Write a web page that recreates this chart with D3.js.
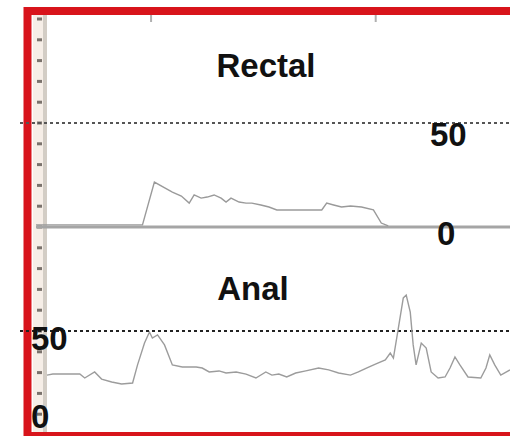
<!DOCTYPE html>
<html>
<head>
<meta charset="utf-8">
<script src="https://cdn.jsdelivr.net/npm/d3@7"></script>
<style>
  html, body { margin: 0; padding: 0; background: #fff; }
  svg { display: block; }
</style>
</head>
<body>
<div id="chart"></div>
<script>
// Anorectal manometry trace – rectal and anal pressure channels

const timeDomain = [4.9, 26];
const timeTicks = [10, 20];
const refLevel = 50;

const rectalTime = [4.9, 9.64, 10.17, 10.97, 11.37, 11.72, 11.94, 12.25, 12.52, 12.83, 13.14, 13.36,
  13.58, 13.94, 14.25, 14.51, 14.91, 15.27, 15.62, 16.73, 17.62, 17.84, 18.15, 18.5, 18.9, 19.39,
  19.92, 20.27, 20.58];
const rectalPressure = [1, 1, 21.6, 16.8, 14.9, 11.5, 15.4, 13.9, 14.4, 15.4, 13.9, 12.0,
  13.9, 12.0, 11.5, 11.5, 10.6, 9.6, 8.2, 8.2, 8.2, 11.5, 10.6, 9.6, 10.1, 9.6,
  8.2, 1.9, 0.5];

const analTime = [5.39, 5.65, 6.85, 7.07, 7.51, 7.82, 8.27, 8.71, 9.2, 9.42, 9.73, 9.95, 10.08,
  10.31, 10.62, 10.97, 11.41, 12.03, 12.3, 12.61, 13.05, 13.36, 13.81, 14.25, 14.69, 15.13, 15.4,
  15.71, 16.06, 16.46, 16.91, 17.48, 17.93, 18.37, 18.9, 19.25, 19.61, 20.01, 20.45, 20.67, 20.81,
  21.03, 21.25, 21.38, 21.56, 21.69, 21.82, 22.05, 22.27, 22.49, 22.8, 23.11, 23.33, 23.55, 23.77,
  24.13, 24.7, 24.93, 25.1, 25.32, 25.59, 26.0];
const analPressure = [28.8, 29.3, 29.3, 27.4, 30.3, 26.9, 25.5, 24.5, 25.0, 33.7, 44.2, 49.5, 46.6,
  48.1, 43.3, 33.7, 32.7, 32.7, 32.2, 30.3, 30.8, 29.8, 30.3, 29.3, 27.4, 30.3, 28.8,
  29.3, 27.9, 29.8, 30.8, 32.2, 31.3, 29.8, 28.8, 30.3, 32.2, 34.1, 36.1, 39.4, 37.0,
  51.4, 65.9, 67.3, 59.1, 43.3, 33.7, 44.2, 41.8, 30.3, 27.4, 27.9, 32.2, 37.5, 33.7,
  27.9, 27.4, 32.2, 38.5, 33.7, 28.8, 31.3];

const rulerTicks = d3.range(-100, 101, 10);

const width = 510, height = 436;
const font = '"Liberation Sans", Arial, sans-serif';

const svg = d3.select('#chart').append('svg')
  .attr('width', width)
  .attr('height', height);

const x = d3.scaleLinear().domain(timeDomain).range([36, 510]);
const yRectal = d3.scaleLinear().domain([0, 50]).range([227, 123]);
const yAnal = d3.scaleLinear().domain([0, 50]).range([435, 331]);

// ruler strip on the left
svg.append('rect').attr('x', 33).attr('y', 14).attr('width', 14).attr('height', 420).attr('fill', '#f6eee7');
svg.append('rect').attr('x', 43).attr('y', 14).attr('width', 4).attr('height', 420).attr('fill', '#d3cdc5');
svg.selectAll('.rtick')
  .data(rulerTicks)
  .join('rect')
  .attr('class', 'rtick')
  .attr('x', 37)
  .attr('y', d => yRectal(d) - 1.5)
  .attr('width', 5)
  .attr('height', 3)
  .attr('fill', '#7a726c');

// red frame
svg.append('rect')
  .attr('x', 27.5).attr('y', 11)
  .attr('width', 520).attr('height', 425)
  .attr('fill', 'none')
  .attr('stroke', '#d8141b')
  .attr('stroke-width', 8);

// top time ticks
svg.append('g')
  .attr('transform', 'translate(0,15)')
  .call(d3.axisBottom(x).tickValues(timeTicks).tickSize(7).tickFormat(''))
  .call(g => g.select('.domain').remove())
  .call(g => g.selectAll('line').attr('stroke', '#b0b0b0').attr('stroke-width', 2));

// rectal zero baseline
svg.append('line')
  .attr('x1', 36).attr('x2', 510)
  .attr('y1', yRectal(0)).attr('y2', yRectal(0))
  .attr('stroke', '#a5a5a5').attr('stroke-width', 3);

// dotted 50 reference lines
[[yRectal, '#555'], [yAnal, '#222']].forEach(([y, c]) => {
  svg.append('line')
    .attr('x1', 20).attr('x2', 510)
    .attr('y1', y(refLevel)).attr('y2', y(refLevel))
    .attr('stroke', c).attr('stroke-width', 1.8)
    .attr('stroke-dasharray', '3,3');
});

// traces
const rectalLine = d3.line().x(d => x(d[0])).y(d => yRectal(d[1]));
const analLine = d3.line().x(d => x(d[0])).y(d => yAnal(d[1]));

svg.append('path')
  .datum(d3.zip(rectalTime, rectalPressure))
  .attr('d', rectalLine)
  .attr('fill', 'none')
  .attr('stroke', '#9a9a9a')
  .attr('stroke-width', 1.4);

svg.append('path')
  .datum(d3.zip(analTime, analPressure))
  .attr('d', analLine)
  .attr('fill', 'none')
  .attr('stroke', '#9c9c9c')
  .attr('stroke-width', 1.4);

// labels
const label = (txt, px, py, anchor) => svg.append('text')
  .attr('x', px).attr('y', py)
  .attr('text-anchor', anchor || 'start')
  .attr('font-family', font)
  .attr('font-weight', 'bold')
  .attr('font-size', '33px')
  .attr('fill', '#111')
  .text(txt);

label('Rectal', 266, 77, 'middle');
label('50', 430, yRectal(refLevel) + 23);
label('0', 437, yRectal(0) + 18);
label('Anal', 253, 300, 'middle');
label('50', 31, yAnal(refLevel) + 19);
label('0', 31, 428);
</script>
</body>
</html>
